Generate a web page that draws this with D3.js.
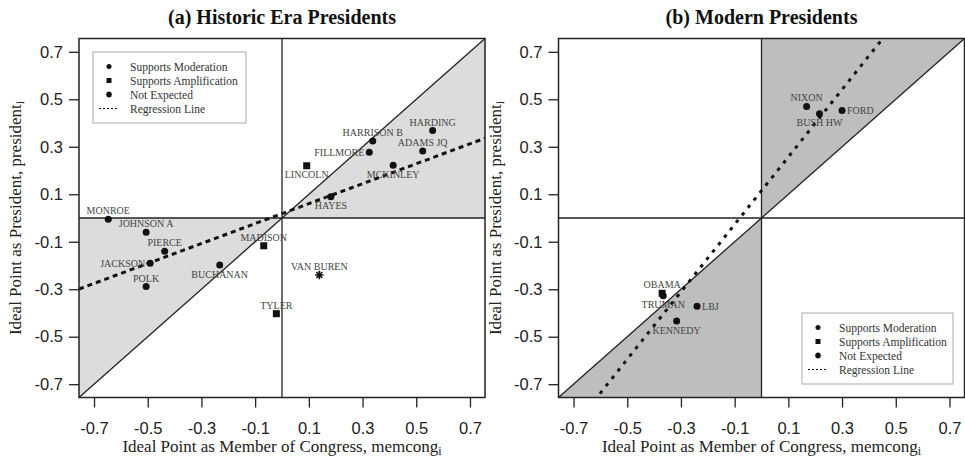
<!DOCTYPE html>
<html>
<head>
<meta charset="utf-8">
<script src="https://cdn.jsdelivr.net/npm/d3@7"></script>
<style>
    body { margin: 0; background: #fff; }
    svg { font-family: "Liberation Serif", "Times New Roman", serif; }
    .tick text { font-size: 16.5px; fill: #222; }
    .tick line { stroke: #222; stroke-width: 1.3; }
    .panel__title { font-size: 20px; font-weight: bold; fill: #111; }
    .panel__axis-title { font-size: 17px; fill: #222; }
    .panel__label { font-size: 10px; fill: #444; }
    .legend text { font-size: 11.5px; fill: #333; }
</style>
</head>
<body>
<svg id="chart" width="965" height="460"></svg>
<script>
// ticks shared by both panels
var tickValues = [-0.7, -0.5, -0.3, -0.1, 0.1, 0.3, 0.5, 0.7];

// (a) historic era presidents
var historicNames = ['MONROE', 'JOHNSON A', 'PIERCE', 'JACKSON', 'POLK', 'BUCHANAN', 'MADISON', 'TYLER',
    'VAN BUREN', 'LINCOLN', 'HAYES', 'MCKINLEY', 'FILLMORE', 'HARRISON B', 'ADAMS JQ', 'HARDING'];
var historicMemcong = [-0.647, -0.506, -0.437, -0.491, -0.506, -0.232, -0.068, -0.021,
    0.139, 0.092, 0.182, 0.414, 0.325, 0.338, 0.524, 0.561];
var historicPresident = [-0.005, -0.060, -0.140, -0.191, -0.289, -0.198, -0.117, -0.403,
    -0.240, 0.220, 0.090, 0.222, 0.277, 0.324, 0.282, 0.368];
var historicType = ['mod', 'mod', 'mod', 'mod', 'mod', 'mod', 'amp', 'amp',
    'not', 'amp', 'mod', 'mod', 'mod', 'mod', 'mod', 'mod'];
// label side, as in R's pos: 1 below, 2 left, 3 above, 4 right
var historicLabelPos = [3, 3, 3, 2, 3, 1, 3, 3, 3, 1, 1, 1, 2, 3, 3, 3];
var historicFit = { intercept: 0.0185, slope: 0.42 };

// (b) modern presidents
var modernNames = ['NIXON', 'BUSH HW', 'FORD', 'TRUMAN', 'OBAMA', 'LBJ', 'KENNEDY'];
var modernMemcong = [0.168, 0.216, 0.300, -0.366, -0.370, -0.240, -0.316];
var modernPresident = [0.470, 0.439, 0.453, -0.327, -0.317, -0.372, -0.434];
var modernType = ['mod', 'mod', 'mod', 'mod', 'amp', 'mod', 'mod'];
var modernLabelPos = [3, 1, 4, 1, 3, 4, 1];
var modernFit = { intercept: 0.115, slope: 1.42 };

var legendLabels = ['Supports Moderation', 'Supports Amplification', 'Not Expected', 'Regression Line'];
var legendTypes = ['mod', 'amp', 'not', 'line'];

(function() {
    var svg = d3.select('#chart');
    var limit = 0.756;

    var drawMarker = function(g, type, x, y, size) {
        if (type == 'mod') {
            g.append('circle').attr('cx', x).attr('cy', y).attr('r', size * 0.5).attr('fill', '#111');
        } else if (type == 'amp') {
            g.append('rect').attr('x', x - size * 0.5).attr('y', y - size * 0.5)
                .attr('width', size).attr('height', size).attr('fill', '#111');
        } else if (type == 'not') {
            var r = size * 0.6, d = r * 0.707;
            g.append('path')
                .attr('d', 'M' + (x - r) + ',' + y + 'H' + (x + r) +
                    'M' + x + ',' + (y - r) + 'V' + (y + r) +
                    'M' + (x - d) + ',' + (y - d) + 'L' + (x + d) + ',' + (y + d) +
                    'M' + (x - d) + ',' + (y + d) + 'L' + (x + d) + ',' + (y - d))
                .attr('stroke', '#111').attr('stroke-width', 1.6);
        }
    };

    var drawLegend = function(left, top, width, height, dash) {
        var legend = svg.append('g').classed('legend', true);
        legend.append('rect')
            .attr('x', left).attr('y', top).attr('width', width).attr('height', height)
            .attr('fill', '#fff').attr('stroke', '#aaa').attr('stroke-width', 1);

        legendLabels.forEach(function(label, i) {
            var y = top + 14.5 + i * 14;
            if (legendTypes[i] == 'line') {
                legend.append('line')
                    .attr('x1', left + 6).attr('x2', left + 26).attr('y1', y).attr('y2', y)
                    .attr('stroke', '#111').attr('stroke-width', 1.2).attr('stroke-dasharray', '2,2');
            } else {
                drawMarker(legend, legendTypes[i], left + 16, y, 5);
            }
            legend.append('text')
                .attr('x', left + 37).attr('y', y).attr('dy', '0.35em')
                .text(label);
        });
    };

    var drawPanel = function(options) {
        var x = d3.scaleLinear().domain([-limit, limit]).range([options.left, options.left + 406]);
        var y = d3.scaleLinear().domain([-limit, limit]).range([397.5, 38.5]);
        var panel = svg.append('g');

        // shaded triangles
        options.shade.forEach(function(tri) {
            panel.append('path')
                .attr('d', d3.line()(tri.map(function(p) { return [x(p[0]), y(p[1])]; })) + 'Z')
                .attr('fill', options.fill);
        });

        // reference lines
        panel.append('line')
            .attr('x1', x(0)).attr('x2', x(0)).attr('y1', y(limit)).attr('y2', y(-limit))
            .attr('stroke', '#222').attr('stroke-width', 1.3);
        panel.append('line')
            .attr('x1', x(-limit)).attr('x2', x(limit)).attr('y1', y(0)).attr('y2', y(0))
            .attr('stroke', '#222').attr('stroke-width', 1.3);
        panel.append('line')
            .attr('x1', x(-limit)).attr('x2', x(limit)).attr('y1', y(-limit)).attr('y2', y(limit))
            .attr('stroke', '#222').attr('stroke-width', 1.3);

        // regression line, clipped to the box
        var clipId = 'clip-' + options.id;
        svg.append('clipPath').attr('id', clipId)
            .append('rect')
            .attr('x', x(-limit)).attr('y', y(limit))
            .attr('width', x(limit) - x(-limit)).attr('height', y(-limit) - y(limit));
        panel.append('line')
            .attr('clip-path', 'url(#' + clipId + ')')
            .attr('x1', x(-limit)).attr('y1', y(options.fit.intercept - options.fit.slope * limit))
            .attr('x2', x(limit)).attr('y2', y(options.fit.intercept + options.fit.slope * limit))
            .attr('stroke', '#111').attr('stroke-width', 3).attr('stroke-dasharray', options.dash);

        // points and labels
        options.names.forEach(function(name, i) {
            var px = x(options.memcong[i]), py = y(options.president[i]);
            drawMarker(panel, options.types[i], px, py, 7);

            var pos = options.labelPos[i];
            var label = panel.append('text')
                .classed('panel__label', true)
                .attr('dy', '0.35em')
                .text(name);
            if (pos == 1) label.attr('x', px).attr('y', py + 9).attr('text-anchor', 'middle');
            if (pos == 3) label.attr('x', px).attr('y', py - 8.5).attr('text-anchor', 'middle');
            if (pos == 2) label.attr('x', px - 5).attr('y', py).attr('text-anchor', 'end');
            if (pos == 4) label.attr('x', px + 5).attr('y', py).attr('text-anchor', 'start');
        });

        // box
        panel.append('rect')
            .attr('x', x(-limit)).attr('y', y(limit))
            .attr('width', x(limit) - x(-limit)).attr('height', y(-limit) - y(limit))
            .attr('fill', 'none').attr('stroke', '#222').attr('stroke-width', 1.5);

        // axes
        var format = function(d) { return d.toFixed(1); };
        panel.append('g')
            .attr('transform', 'translate(0,' + y(-limit) + ')')
            .call(d3.axisBottom(x).tickValues(tickValues).tickSize(10).tickPadding(15).tickFormat(format))
            .call(function(g) { g.select('.domain').remove(); });
        panel.append('g')
            .attr('transform', 'translate(' + x(-limit) + ',0)')
            .call(d3.axisLeft(y).tickValues(tickValues).tickSize(10).tickPadding(6).tickFormat(format))
            .call(function(g) { g.select('.domain').remove(); });

        // titles
        panel.append('text')
            .classed('panel__title', true)
            .attr('x', x(0)).attr('y', 24).attr('text-anchor', 'middle')
            .text(options.title);

        var xTitle = panel.append('text')
            .classed('panel__axis-title', true)
            .attr('x', x(0)).attr('y', 452).attr('text-anchor', 'middle');
        xTitle.append('tspan').text('Ideal Point as Member of Congress, memcong');
        xTitle.append('tspan').attr('font-size', '12px').attr('dy', 3).text('i');

        var yTitle = panel.append('text')
            .classed('panel__axis-title', true)
            .attr('transform', 'translate(' + (options.left - 58) + ',' + y(0) + ') rotate(-90)')
            .attr('text-anchor', 'middle');
        yTitle.append('tspan').text('Ideal Point as President, president');
        yTitle.append('tspan').attr('font-size', '12px').attr('dy', 3).text('i');
    };

    drawPanel({
        id: 'a',
        left: 79,
        title: '(a) Historic Era Presidents',
        fill: '#dcdcdc',
        shade: [[[0, 0], [limit, 0], [limit, limit]], [[0, 0], [-limit, 0], [-limit, -limit]]],
        names: historicNames,
        memcong: historicMemcong,
        president: historicPresident,
        types: historicType,
        labelPos: historicLabelPos,
        fit: historicFit,
        dash: '5,4'
    });

    drawPanel({
        id: 'b',
        left: 558.5,
        title: '(b) Modern Presidents',
        fill: '#bebebe',
        shade: [[[0, 0], [0, limit], [limit, limit]], [[0, 0], [0, -limit], [-limit, -limit]]],
        names: modernNames,
        memcong: modernMemcong,
        president: modernPresident,
        types: modernType,
        labelPos: modernLabelPos,
        fit: modernFit,
        dash: '3.5,6'
    });

    drawLegend(93, 52, 153, 71);
    drawLegend(802, 313, 151, 71);
})();
</script>
</body>
</html>
